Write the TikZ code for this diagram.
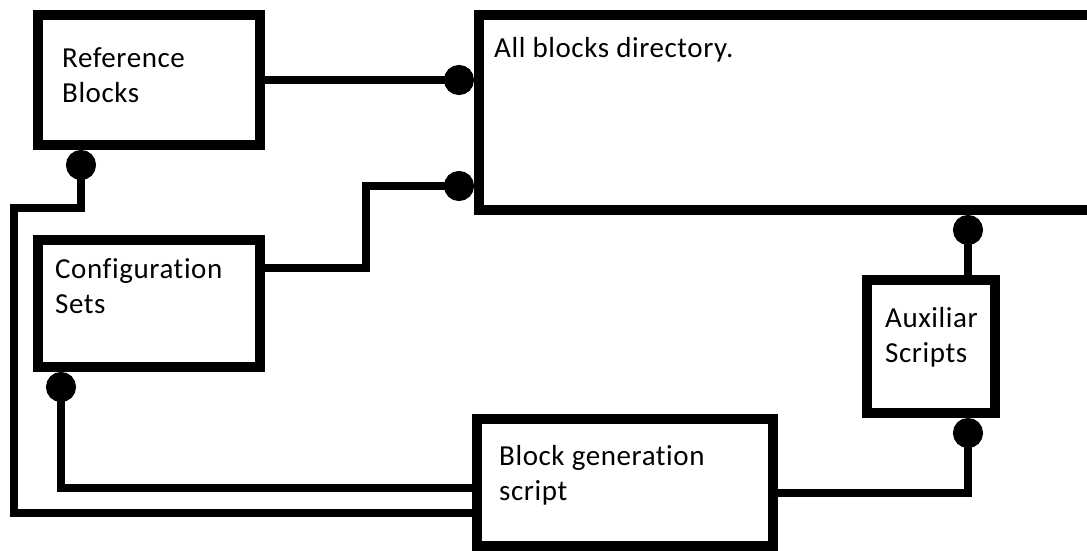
\documentclass[tikz,border=0pt]{standalone}
\usepackage{fontspec}
\setmainfont{Carlito}[LetterSpace=2, Ligatures=NoCommon]
\usetikzlibrary{arrows.meta}
\tikzset{blob/.tip={Circle[length=30pt,width=30pt]}}
\begin{document}
\begin{tikzpicture}[x=1pt,y=-1pt,
  box/.style={draw, line width=10pt, inner sep=0pt, outer sep=0pt, anchor=north west},
  lbl/.style={inner sep=0pt, anchor=base west, align=left, font=\fontsize{29}{35}\selectfont},
  wire/.style={line width=8pt},
]
\clip (0,0) rectangle (1087,550);
\fill[white] (0,0) rectangle (1087,550);

% blocks
\node[box, minimum width=222pt, minimum height=130pt] (ref) at (38,15) {};
\node[box, minimum width=700pt, minimum height=195pt] (dir) at (479,15) {};
\node[box, minimum width=222pt, minimum height=127pt] (cfg) at (38,240) {};
\node[box, minimum width=128pt, minimum height=133pt] (aux) at (867,280) {};
\node[box, minimum width=296pt, minimum height=127pt] (gen) at (477,419) {};

% labels (anchored at the baseline of their last line)
\node[lbl] (refT) at (62,102) {Reference\\Blocks};
\node[lbl] (dirT) at (494,57) {All blocks directory.};
\node[lbl] (cfgT) at (55,313) {Configuration\\Sets};
\node[lbl] (auxT) at (885,362) {Auxiliar\\Scripts};
\node[lbl] (genT) at (499,500) {Block generation\\script};

% bend points
\coordinate (c1) at (366,186);
\coordinate (r1) at (81,208);
\coordinate (r2) at (14,513);
\coordinate (k1) at (61,488);
\coordinate (g1) at (968,493);

% connectors
\draw[wire, -{blob}, shorten >=5pt] (ref.east) -- (ref.east -| dir.west);
\draw[wire, -{blob}, shorten >=5pt] ([yshift=-28pt]cfg.north east) -| (c1) -- (c1 -| dir.west);
\draw[wire, {blob}-, shorten <=5pt] (r1 |- ref.south) -- (r1) -| (r2) -- (r2 -| gen.west);
\draw[wire, {blob}-, shorten <=5pt] (k1 |- cfg.south) -- (k1) -- (k1 -| gen.west);
\draw[wire, -{blob}, shorten >=5pt] (g1 -| gen.east) -- (g1) -- (g1 |- aux.south);
\draw[wire, -{blob}, shorten >=5pt] (g1 |- aux.north) -- (g1 |- dir.south);
\end{tikzpicture}
\end{document}
